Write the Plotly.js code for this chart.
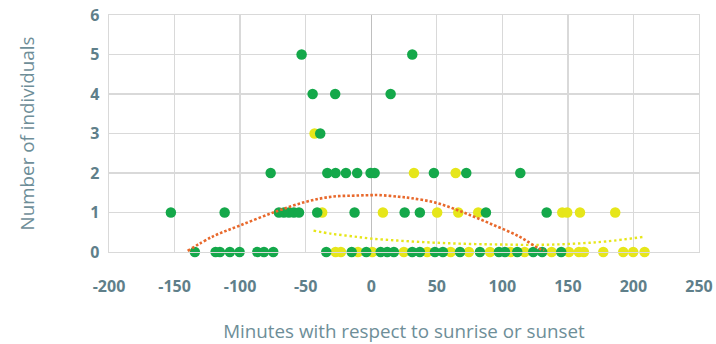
<!DOCTYPE html>
<html>
<head>
<meta charset="utf-8">
<script src="https://cdn.plot.ly/plotly-3.0.1.min.js"></script>
<style>html,body{margin:0;padding:0;background:#fff;}#chart{width:716px;height:344px;}</style>
</head>
<body>
<div id="chart"></div>
<script>
// Green series: minutes grouped by number of individuals
const greenCounts = [0, 1, 2, 3, 4, 5];
const green0 = [-134.5,-118.7,-115.4,-107.8,-100.4,-86.9,-81.8,-74.7,-34.3,-14.9,-3.8,7.2,12.2,17.3,31.3,37.1,48.6,54.7,67.7,82.9,97.4,102,111.4,123.6,130.4,144.9];
const green1 = [-152.8,-111.8,-70.4,-66.6,-62.8,-59,-55.1,-41.2,-12.7,25.5,37.1,87.5,133.8];
const green2 = [-76.7,-33.5,-27.2,-19.3,-10.7,-0.5,2.6,47.8,72.5,113.7];
const green3 = [-38.9];
const green4 = [-44.7,-27.5,14.8];
const green5 = [-53.1,31.3];

// Yellow series
const yellowCounts = [0, 1, 2, 3];
const yellow0 = [-27.2,-23.1,-10.1,0.8,24.9,42.7,60.6,74.5,90.6,106.3,117,137.6,150.8,158.4,162.2,177,192.2,199.8,208.5];
const yellow1 = [-37.4,8.9,50.3,66.4,81.6,145.7,149.5,159.2,186.1];
const yellow2 = [32.6,64.4];
const yellow3 = [-43.2];

// Trendlines
const orangeTrendX = [-140,-121,-101,-73,-50,-30,-10,0,6,21,31,49,69,90,113,128,132];
const orangeTrendY = [0.03,0.39,0.66,1.02,1.27,1.40,1.43,1.44,1.44,1.40,1.36,1.25,1.02,0.73,0.39,0.09,0.05];
const yellowTrendX = [-44,-30,-15,0,20,40,60,80,100,120,140,160,180,207];
const yellowTrendY = [0.54,0.46,0.40,0.34,0.29,0.25,0.22,0.20,0.19,0.18,0.19,0.22,0.27,0.38];

const xTicks = [-200,-150,-100,-50,0,50,100,150,200,250];
const yTicks = [0,1,2,3,4,5,6];

function flatten(groups, counts) {
  const xs = [], ys = [];
  groups.forEach((g, i) => g.forEach(v => { xs.push(v); ys.push(counts[i]); }));
  return {xs, ys};
}
const G = flatten([green0, green1, green2, green3, green4, green5], greenCounts);
const Y = flatten([yellow0, yellow1, yellow2, yellow3], yellowCounts);

const GREEN = '#14a84a', YELLOW = '#e6e61a', ORANGE = '#e8692c';
const tickColor = '#5f7f8a', titleColor = '#6e8e98', gridColor = '#d9d9d9';

const traces = [
  {x: Y.xs, y: Y.ys, type: 'scatter', mode: 'markers', cliponaxis: false,
   marker: {color: YELLOW, size: 10.5}},
  {x: G.xs, y: G.ys, type: 'scatter', mode: 'markers', cliponaxis: false,
   marker: {color: GREEN, size: 10.5}},
  {x: yellowTrendX, y: yellowTrendY, type: 'scatter', mode: 'lines', cliponaxis: false,
   line: {color: YELLOW, width: 2.4, dash: '2.4px,2.8px', shape: 'spline', smoothing: 1}},
  {x: orangeTrendX, y: orangeTrendY, type: 'scatter', mode: 'lines', cliponaxis: false,
   line: {color: ORANGE, width: 2.6, dash: '2.6px,2px', shape: 'spline', smoothing: 1}}
];

const layout = {
  width: 716, height: 344,
  margin: {l: 109, r: 17, t: 15, b: 92},
  paper_bgcolor: '#fff', plot_bgcolor: '#fff',
  showlegend: false,
  font: {family: 'Open Sans, sans-serif'},
  xaxis: {
    range: [-200, 250], tickvals: xTicks, ticktext: xTicks.map(String),
    showgrid: true, gridcolor: gridColor, gridwidth: 1.3,
    zeroline: true, zerolinecolor: '#bfbfbf', zerolinewidth: 1.3,
    showline: true, mirror: true, linecolor: gridColor, linewidth: 1.3,
    ticks: '', ticklabelstandoff: 19,
    tickfont: {family: 'Open Sans, sans-serif', size: 16, color: tickColor, weight: 'bold'},
    title: {text: 'Minutes with respect to sunrise or sunset', standoff: 32,
            font: {family: 'Open Sans, sans-serif', size: 18.8, color: titleColor}}
  },
  yaxis: {
    range: [0, 6], tickvals: yTicks, ticktext: yTicks.map(String),
    showgrid: true, gridcolor: gridColor, gridwidth: 1.3,
    zeroline: false,
    showline: true, mirror: true, linecolor: gridColor, linewidth: 1.3,
    ticks: '', ticklabelstandoff: 5,
    tickfont: {family: 'Open Sans, sans-serif', size: 16, color: tickColor, weight: 'bold'},
    title: {text: 'Number of individuals', standoff: 50,
            font: {family: 'Open Sans, sans-serif', size: 18.8, color: titleColor}}
  }
};

Plotly.newPlot('chart', traces, layout, {displayModeBar: false, staticPlot: true});
</script>
</body>
</html>
